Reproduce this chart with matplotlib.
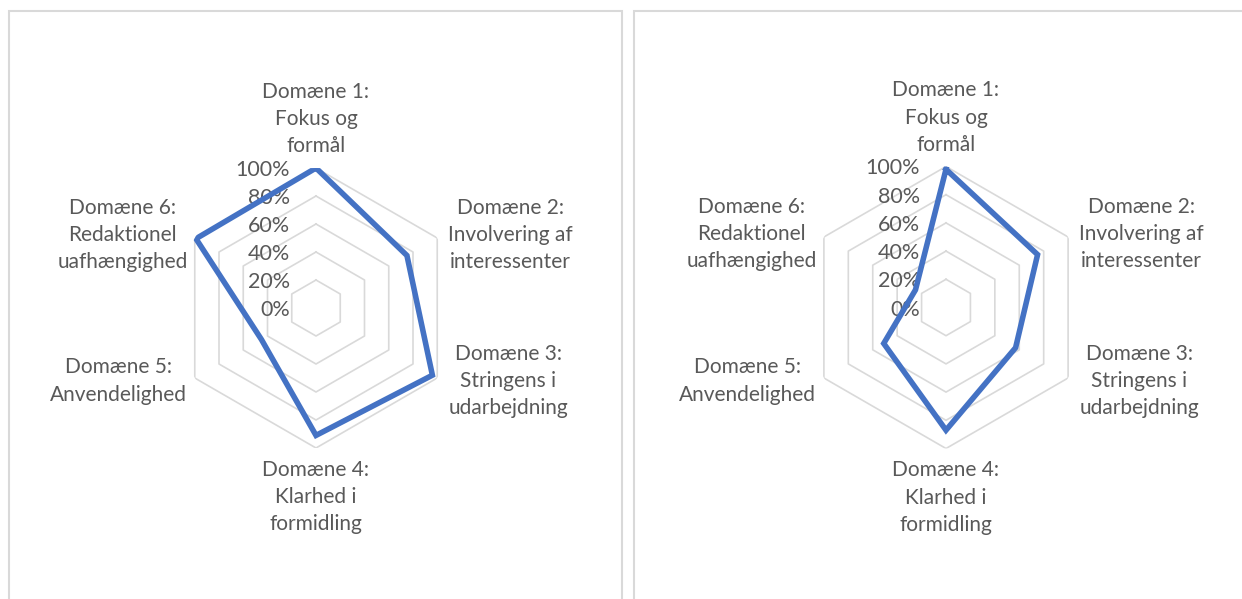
import matplotlib.pyplot as plt
import numpy as np
from matplotlib.patches import Rectangle

categories = ['Domæne 1:\nFokus og\nformål',
              'Domæne 2:\nInvolvering af\ninteressenter',
              'Domæne 3:\nStringens i\nudarbejdning',
              'Domæne 4:\nKlarhed i\nformidling',
              'Domæne 5:\nAnvendelighed',
              'Domæne 6:\nRedaktionel\nuafhængighed']
left_values = [100, 75, 96, 91, 45, 99]
right_values = [98, 75, 57, 87, 51, 25]
ring_levels = [20, 40, 60, 80, 100]
tick_labels = ['0%', '20%', '40%', '60%', '80%', '100%']

W, H = 1242, 599
fig = plt.figure(figsize=(W / 100, H / 100), dpi=100)
plt.rcParams['font.family'] = ['Lato', 'DejaVu Sans']

txt_col = '#595959'
grid_col = '#D9D9D9'
line_col = '#4472C4'

# panel frames (bottom runs off the picture)
for x0, x1 in [(9, 622), (634, 1260)]:
    fig.add_artist(Rectangle((x0 / W, -0.1), (x1 - x0) / W, (H - 11) / H + 0.1,
                             transform=fig.transFigure, fill=False,
                             edgecolor=grid_col, linewidth=1.5))

angles = np.pi / 2 - np.arange(6) * np.pi / 3
angles_closed = np.append(angles, angles[0])

# label offsets (pixels) from each axis tip
offsets = [(0, 49), (73, 3), (71, -3), (0, -49), (-76, -3), (-72, 3)]


def radar(cx, cy, R, values):
    ax = fig.add_axes([(cx - R) / W, (H - cy - R) / H, 2 * R / W, 2 * R / H],
                      projection='polar')
    ax.set_theta_zero_location('E')
    ax.set_ylim(0, 100)
    ax.grid(False)
    ax.spines['polar'].set_visible(False)
    ax.set_xticks([])
    ax.set_yticks([])
    ax.patch.set_alpha(0)
    for lev in ring_levels:
        ax.plot(angles_closed, [lev] * 7, color=grid_col, lw=1.2, zorder=1)
    vals = list(values) + [values[0]]
    ax.plot(angles_closed, vals, color=line_col, lw=4,
            solid_joinstyle='miter', zorder=3)
    for i, lab in enumerate(categories):
        ax.annotate(lab, xy=(angles[i], 100), xytext=offsets[i],
                    textcoords='offset pixels', ha='center', va='center',
                    fontsize=15, color=txt_col, linespacing=1.45,
                    annotation_clip=False)
    for lev, lab in zip([0] + ring_levels, tick_labels):
        ax.annotate(lab, xy=(np.pi / 2, lev), xytext=(-26, -2),
                    textcoords='offset pixels', ha='right', va='center',
                    fontsize=15.5, color=txt_col, zorder=2,
                    annotation_clip=False)
    return ax


radar(316, 308, 140, left_values)
radar(946, 307.5, 141, right_values)

fig.savefig('out.png', dpi=100)
